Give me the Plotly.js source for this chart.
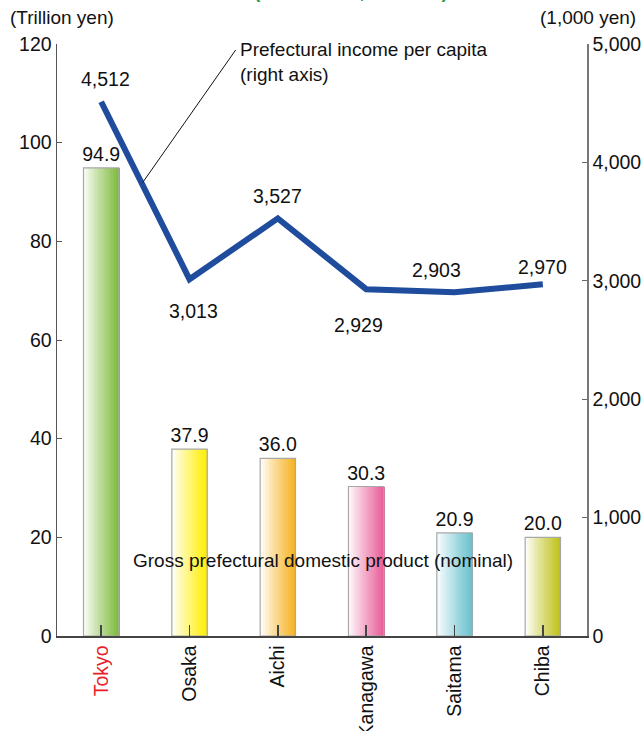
<!DOCTYPE html>
<html>
<head>
<meta charset="utf-8">
<script src="https://cdn.plot.ly/plotly-3.0.1.min.js"></script>
<style>html,body{margin:0;padding:0;background:#fff;}#chart{width:641px;height:731px;}</style>
</head>
<body>
<div id="chart"></div>
<script>
// ---- data ----
const prefectures = ['Tokyo', 'Osaka', 'Aichi', 'Kanagawa', 'Saitama', 'Chiba'];
const gdpTrillionYen = [94.9, 37.9, 36.0, 30.3, 20.9, 20.0];
const incomePerCapita = [4512, 3013, 3527, 2929, 2903, 2970];
const leftTicks = [0, 20, 40, 60, 80, 100, 120];
const rightTicks = [0, 1000, 2000, 3000, 4000, 5000];

// ---- styles ----
const barColors = [[125,186,58],[255,238,0],[245,178,30],[232,92,152],[104,192,206],[190,192,22]];
const FONT = 'Liberation Sans, Arial, Helvetica, sans-serif';
const TS = 19.5;   // tick / value label size
const AS = 19;     // annotation size
const lineColor = '#1f4c9c';
const xIdx = prefectures.map((p, i) => i);

const traces = [];
const N = 24, BW = 0.4;
for (let s = 0; s < N; s++) {
  const t = Math.pow((s + 0.5) / N, 0.9);
  const cols = barColors.map(c => {
    const r = Math.round(255 + (c[0] - 255) * t);
    const g = Math.round(255 + (c[1] - 255) * t);
    const b = Math.round(255 + (c[2] - 255) * t);
    return `rgb(${r},${g},${b})`;
  });
  const w = BW / N;
  traces.push({
    type: 'bar', x: xIdx, y: gdpTrillionYen,
    width: w * 1.6, offset: -BW / 2 + s * w,
    marker: { color: cols, line: { width: 0 } },
    hoverinfo: 'skip', showlegend: false, yaxis: 'y'
  });
}
// outline + value labels
traces.push({
  type: 'bar', x: xIdx, y: gdpTrillionYen,
  width: BW, offset: -BW / 2,
  marker: { color: 'rgba(0,0,0,0)', line: { color: '#a8a8a8', width: 1.2 } },
  text: gdpTrillionYen.map(v => v.toFixed(1)),
  textposition: 'outside', cliponaxis: false, constraintext: 'none',
  textfont: { family: FONT, size: TS, color: '#111' },
  showlegend: false, yaxis: 'y'
});
// income line
traces.push({
  type: 'scatter', mode: 'lines', x: xIdx, y: incomePerCapita,
  line: { color: lineColor, width: 6 }, yaxis: 'y2', showlegend: false
});

const fmt = v => v.toLocaleString('en-US');
// label placement for line values (shift in px)
const lineLabelShift = [[4, 23], [4, -32], [0, 22], [-8, -36], [-18, 22], [0, 17]];
const annotations = incomePerCapita.map((v, i) => ({
  x: i, y: v, xref: 'x', yref: 'y2', text: fmt(v), showarrow: false,
  xshift: lineLabelShift[i][0], yshift: lineLabelShift[i][1],
  font: { family: FONT, size: TS, color: '#111' }
}));

annotations.push(
  { xref: 'paper', yref: 'paper', x: -0.093, y: 1.044, xanchor: 'left', yanchor: 'middle',
    text: '(Trillion yen)', showarrow: false, font: { family: FONT, size: AS, color: '#111' } },
  { xref: 'paper', yref: 'paper', x: 1.096, y: 1.044, xanchor: 'right', yanchor: 'middle',
    text: '(1,000 yen)', showarrow: false, font: { family: FONT, size: AS, color: '#111' } },
  { xref: 'paper', yref: 'paper', x: 0.555, y: 1.068, xanchor: 'center', yanchor: 'bottom',
    text: '<b>(nationwide, FY 2014)</b>', showarrow: false, font: { family: FONT, size: 19, color: '#1ea048' } },
  { xref: 'paper', yref: 'paper', x: 0.3415, y: 1.012, xanchor: 'left', yanchor: 'top', align: 'left',
    text: 'Prefectural income per capita<br>(right axis)', showarrow: false,
    font: { family: FONT, size: AS, color: '#111' } },
  { xref: 'x', yref: 'y2', x: 0.47, y: 3830, text: '', showarrow: true, arrowhead: 0,
    arrowwidth: 1, arrowcolor: '#111', ax: 94, ay: -134, axref: 'pixel', ayref: 'pixel' },
  { xref: 'paper', yref: 'paper', x: 0.502, y: 0.127, xanchor: 'center', yanchor: 'middle',
    text: 'Gross prefectural domestic product (nominal)', showarrow: false,
    font: { family: FONT, size: AS, color: '#111' } }
);

const layout = {
  width: 641, height: 731,
  margin: { l: 57, r: 54, t: 44, b: 95, pad: 0 },
  paper_bgcolor: '#fff', plot_bgcolor: '#fff',
  barmode: 'overlay', bargap: 0,
  font: { family: FONT, size: TS, color: '#111' },
  xaxis: {
    range: [-0.5, 5.5], tickmode: 'array', tickvals: xIdx,
    ticktext: prefectures.map((p, i) => i === 0 ? `<span style="color:#e8202a">${p}</span>` : p),
    tickangle: -90, tickson: 'boundaries', ticks: 'inside', ticklen: 11, tickcolor: '#444', tickwidth: 1.5,
    showline: true, linecolor: '#444', linewidth: 1.5, showgrid: false, zeroline: false,
    tickfont: { family: FONT, size: TS, color: '#111' }, fixedrange: true
  },
  yaxis: {
    range: [0, 120], tickmode: 'array', tickvals: leftTicks, ticks: 'inside', ticklen: 5,
    tickcolor: '#555', showline: true, linecolor: '#555', linewidth: 1.5,
    showgrid: false, zeroline: false, tickfont: { family: FONT, size: TS, color: '#111' }
  },
  yaxis2: {
    range: [0, 5000], overlaying: 'y', side: 'right', tickmode: 'array', tickvals: rightTicks,
    ticktext: rightTicks.map(fmt), ticks: 'inside', ticklen: 5, tickcolor: '#666',
    showline: true, linecolor: '#777', linewidth: 1.5, showgrid: false, zeroline: false,
    tickfont: { family: FONT, size: TS, color: '#111' }
  },
  annotations: annotations,
  showlegend: false
};

Plotly.newPlot('chart', traces, layout, { displayModeBar: false, staticPlot: true });
</script>
</body>
</html>
